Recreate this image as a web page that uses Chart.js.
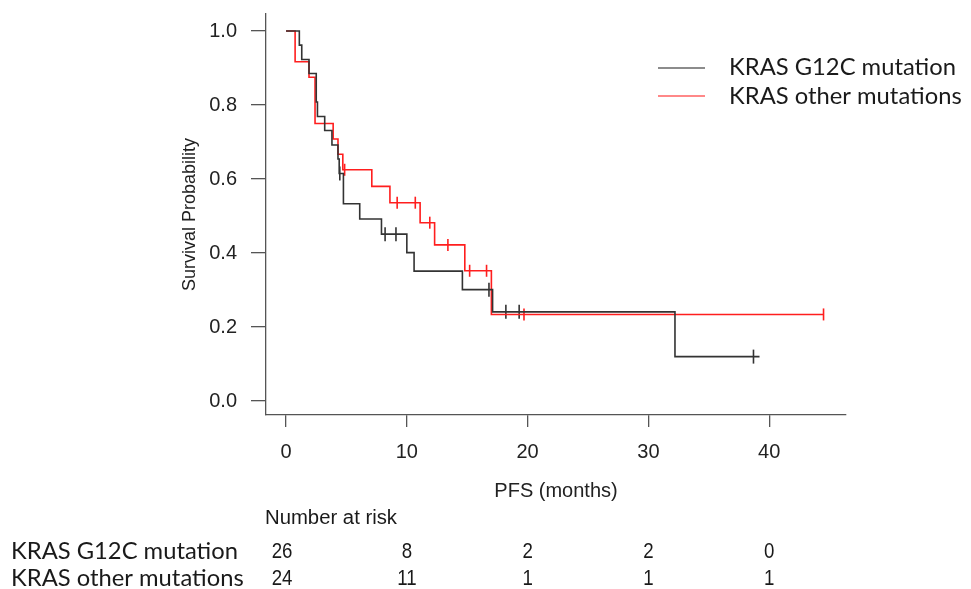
<!DOCTYPE html>
<html>
<head>
<meta charset="utf-8">
<script src="https://cdn.jsdelivr.net/npm/chart.js@4"></script>
<style>
  body { margin: 0; background: #fff; }
  #wrap { width: 971px; height: 589px; }
</style>
</head>
<body>
<div id="wrap"><canvas id="km" width="971" height="589"></canvas></div>
<script>
// tick labels
const timeTicks = [0, 10, 20, 30, 40];
const survTicks = [0, 0.2, 0.4, 0.6, 0.8, 1.0];

// KRAS G12C mutation: step times (months) and survival after each step
const g12cTime = [0, 1.1, 1.3, 1.9, 2.5, 2.6, 3.2, 3.8, 4.3, 4.4, 4.75, 6.1, 7.9, 10.0, 10.6, 14.6, 17.1, 32.2, 39.2];
const g12cSurv = [1, 0.962, 0.923, 0.885, 0.808, 0.769, 0.731, 0.692, 0.654, 0.615, 0.533, 0.492, 0.451, 0.401, 0.351, 0.301, 0.241, 0.120, 0.120];
const g12cCensorTime = [4.45, 8.2, 9.1, 16.8, 18.2, 19.3, 38.7];
const g12cCensorSurv = [0.615, 0.451, 0.451, 0.301, 0.241, 0.241, 0.120];

// KRAS other mutations
const otherTime = [0, 0.75, 1.9, 2.4, 3.9, 4.3, 4.7, 7.1, 8.6, 11.1, 12.3, 14.8, 17.0, 44.5];
const otherSurv = [1, 0.917, 0.875, 0.75, 0.708, 0.667, 0.625, 0.580, 0.536, 0.482, 0.422, 0.352, 0.234, 0.234];
const otherCensorTime = [4.85, 9.2, 10.7, 11.9, 13.4, 15.2, 16.6, 19.7, 44.5];
const otherCensorSurv = [0.625, 0.536, 0.536, 0.482, 0.422, 0.352, 0.352, 0.234, 0.234];

// number at risk at each time tick
const groupLabels = ['KRAS G12C mutation', 'KRAS other mutations'];
const atRiskG12C = [26, 8, 2, 2, 0];
const atRiskOther = [24, 11, 1, 1, 1];

const BLACK = '#333333';
const RED = 'rgb(255,30,30)';
const SANS = "'Liberation Sans', Arial, sans-serif";
const HUMAN = "Lato, 'Open Sans', sans-serif";

function pts(xs, ys) {
  return xs.map((x, i) => ({ x: x, y: ys[i] }));
}

// draw text at a given font size, squeezed sideways to span a given width
function squeezed(ctx, text, x, y, size, family, width) {
  ctx.font = size + 'px ' + family;
  const sx = width / ctx.measureText(text).width;
  ctx.save();
  ctx.translate(x, y);
  ctx.scale(sx, 1);
  ctx.textAlign = 'left';
  ctx.textBaseline = 'middle';
  ctx.fillText(text, 0, 0);
  ctx.restore();
  return sx;
}

const extras = {
  id: 'kmExtras',
  afterDraw(chart) {
    const ctx = chart.ctx;
    const xs = chart.scales.x;
    ctx.save();

    // legend
    const legendRows = [68, 96];
    legendRows.forEach((y, i) => {
      ctx.strokeStyle = i === 0 ? '#666' : '#ff6060';
      ctx.lineWidth = 1.5;
      ctx.beginPath();
      ctx.moveTo(658, y);
      ctx.lineTo(705, y);
      ctx.stroke();
    });
    ctx.fillStyle = '#1a1a1a';
    const sx = squeezed(ctx, groupLabels[0], 729, 67, 24, HUMAN, 227);
    ctx.font = '24px ' + HUMAN;
    squeezed(ctx, groupLabels[1], 729, 96, 24, HUMAN, ctx.measureText(groupLabels[1]).width * sx);

    // number at risk table
    squeezed(ctx, 'Number at risk', 265, 518, 20, SANS, 132);

    const rowY = [551, 578];
    const rows = [atRiskG12C, atRiskOther];
    rows.forEach((vals, r) => {
      ctx.font = '24px ' + HUMAN;
      squeezed(ctx, groupLabels[r], 11, rowY[r], 24, HUMAN, ctx.measureText(groupLabels[r]).width * sx);
      ctx.font = '22px ' + SANS;
      ctx.textAlign = 'center';
      ctx.textBaseline = 'middle';
      vals.forEach((v, i) => {
        const px = xs.getPixelForValue(timeTicks[i]);
        ctx.save();
        ctx.translate(px - (i === 0 ? 4 : 0), rowY[r] + 1);
        ctx.scale(0.85, 1);
        ctx.fillText(String(v), 0, 0);
        ctx.restore();
      });
    });
    ctx.restore();
  }
};

new Chart(document.getElementById('km'), {
  data: {
    datasets: [
      {
        type: 'line',
        label: groupLabels[0],
        data: pts(g12cTime, g12cSurv),
        borderColor: BLACK,
        borderWidth: 1.6,
        stepped: 'before',
        pointRadius: 0,
        fill: false
      },
      {
        type: 'line',
        label: groupLabels[1],
        data: pts(otherTime, otherSurv),
        borderColor: RED,
        borderWidth: 1.6,
        stepped: 'before',
        pointRadius: 0,
        fill: false
      },
      {
        type: 'scatter',
        label: 'g12c censored',
        data: pts(g12cCensorTime, g12cCensorSurv),
        pointStyle: 'line',
        rotation: 90,
        pointRadius: 7,
        borderColor: BLACK,
        borderWidth: 1.6
      },
      {
        type: 'scatter',
        label: 'other censored',
        data: pts(otherCensorTime, otherCensorSurv),
        pointStyle: 'line',
        rotation: 90,
        pointRadius: 6,
        borderColor: RED,
        borderWidth: 1.6
      }
    ]
  },
  options: {
    responsive: false,
    animation: false,
    layout: { padding: { top: 14, right: 125, left: 0, bottom: 0 } },
    plugins: {
      legend: { display: false },
      tooltip: { enabled: false }
    },
    scales: {
      x: {
        type: 'linear',
        min: -1.66,
        max: 46.36,
        afterBuildTicks: axis => { axis.ticks = timeTicks.map(v => ({ value: v })); },
        afterFit: axis => {
          axis.height = 174;
          axis.paddingLeft = 0;
          axis.paddingRight = 0;
        },
        ticks: {
          color: '#222',
          font: { family: SANS, size: 20 },
          padding: 13,
          maxRotation: 0,
          autoSkip: false
        },
        grid: {
          drawOnChartArea: false,
          drawTicks: true,
          tickLength: 12,
          color: '#555',
          lineWidth: 1.3
        },
        border: { color: '#555', width: 1.3 },
        title: {
          display: true,
          text: 'PFS (months)',
          color: '#222',
          font: { family: SANS, size: 20 },
          padding: { top: 0, bottom: 86 }
        }
      },
      y: {
        type: 'linear',
        min: -0.0378,
        max: 1.046,
        afterBuildTicks: axis => { axis.ticks = survTicks.map(v => ({ value: v })); },
        afterFit: axis => {
          axis.width = 266;
          axis.paddingTop = 0;
          axis.paddingBottom = 0;
        },
        ticks: {
          color: '#222',
          font: { family: SANS, size: 20 },
          padding: 14,
          callback: v => v.toFixed(1)
        },
        grid: {
          drawOnChartArea: false,
          drawTicks: true,
          tickLength: 15,
          color: '#555',
          lineWidth: 1.3
        },
        border: { color: '#555', width: 1.3 },
        title: {
          display: true,
          text: 'Survival Probability',
          color: '#222',
          font: { family: SANS, size: 18 },
          padding: { top: 179, bottom: 0 }
        }
      }
    }
  },
  plugins: [extras]
});
</script>
</body>
</html>
